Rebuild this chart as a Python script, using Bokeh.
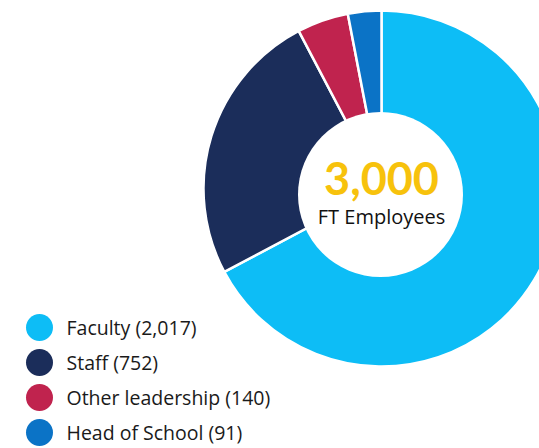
import numpy as np
from bokeh.plotting import figure
from bokeh.models import Range1d, ColumnDataSource
from bokeh.embed import file_html
from bokeh.resources import INLINE
from bokeh.core.properties import value

# ---- data ----
categories = ["Faculty", "Staff", "Other leadership", "Head of School"]
counts = [2017, 752, 140, 91]
colors = ["#0DBDF6", "#1B2D5A", "#C0234E", "#0B73C6"]
total_label = "3,000"
total_caption = "FT Employees"

# ---- layout (page pixels: x = px, y = 448 - py) ----
W, H = 539, 448
FONT = "Open Sans"

def Y(py):
    return H - py

p = figure(width=W, height=H, x_range=Range1d(0, W), y_range=Range1d(0, H),
           output_backend="svg", toolbar_location=None, min_border=0)
p.axis.visible = False
p.grid.visible = False
p.outline_line_color = None
p.background_fill_color = "white"

vals = np.array(counts, dtype=float)
frac = vals / vals.sum()
cum = np.concatenate([[0], np.cumsum(frac)])
starts = np.pi / 2 - 2 * np.pi * cum[:-1]
ends = np.pi / 2 - 2 * np.pi * cum[1:]

cx, cy, r = 381, Y(188), 178
src = ColumnDataSource(dict(start=starts, end=ends, color=colors))
p.wedge(x=cx, y=cy, radius=r, start_angle="start", end_angle="end", direction="clock",
        fill_color="color", line_color="white", line_width=2.5, source=src)

# center white disc
p.circle(x=380, y=Y(194), radius=82.5, fill_color="white", line_color=None)

p.text(x=[381], y=[Y(178)], text=[total_label], text_font=value("Lato"),
       text_font_size="45px", text_font_style="bold", text_color="#F7C20C",
       text_align="center", text_baseline="middle")
p.text(x=[381], y=[Y(216)], text=[total_caption], text_font=value(FONT),
       text_font_size="20px", text_color="#111111",
       text_align="center", text_baseline="middle")

# legend
labels = [f"{c} ({n:,})" for c, n in zip(categories, counts)]
ly = [Y(327 + i * 35.0) for i in range(len(categories))]
lsrc = ColumnDataSource(dict(x=[39] * len(labels), tx=[66] * len(labels), y=ly,
                             label=labels, color=colors))
p.circle(x="x", y="y", radius=13.5, fill_color="color", line_color=None, source=lsrc)
p.text(x="tx", y="y", text="label", text_font=value(FONT), text_font_size="19.5px",
       text_color="#1a1a1a", text_align="left", text_baseline="middle", source=lsrc)

open("out.html", "w").write(file_html(p, INLINE))
